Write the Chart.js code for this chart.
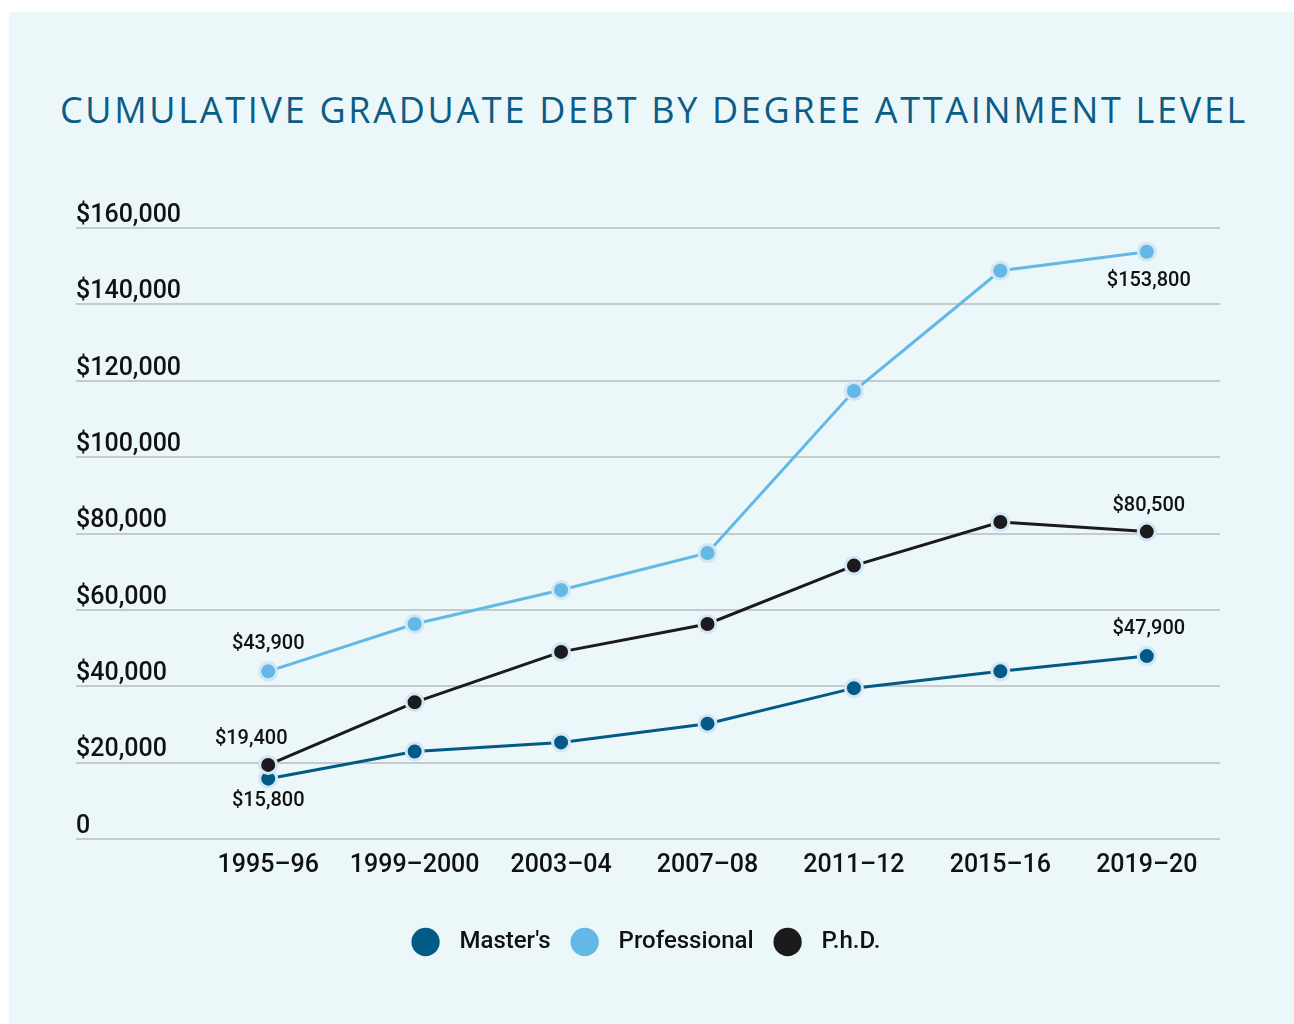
<!DOCTYPE html>
<html><head><meta charset="utf-8">
<script src="https://cdn.jsdelivr.net/npm/chart.js@4.4.0/dist/chart.umd.min.js"></script>
<style>
html,body{margin:0;padding:0;background:#fff;}
#panel{position:absolute;left:9px;top:12px;width:1285px;height:1012px;background:#ebf7f9;}
#title{position:absolute;left:14px;top:88px;width:1280px;text-align:center;font-family:"Open Sans",sans-serif;font-size:36px;line-height:43px;font-weight:400;letter-spacing:2.7px;color:#0b5c86;white-space:nowrap;margin:0;}
#c{position:absolute;left:0;top:0;}
</style></head><body>
<div id="panel"></div>
<h1 id="title">CUMULATIVE GRADUATE DEBT BY DEGREE ATTAINMENT LEVEL</h1>
<canvas id="c" width="1294" height="1024"></canvas>
<script>
const categories = ['1995–96','1999–2000','2003–04','2007–08','2011–12','2015–16','2019–20'];
const seriesNames = ["Master's", 'Professional', 'P.h.D.'];
const mastersDebt = [15800, 22900, 25300, 30200, 39500, 43900, 47900];
const professionalDebt = [43900, 56300, 65200, 74900, 117300, 148800, 153800];
const phdDebt = [19400, 35800, 49000, 56300, 71600, 83000, 80500];
const yTickValues = [0, 20000, 40000, 60000, 80000, 100000, 120000, 140000, 160000];
const yTickLabels = ['0', '$20,000', '$40,000', '$60,000', '$80,000', '$100,000', '$120,000', '$140,000', '$160,000'];

// which points carry a value label (dataset index, point index) and where
const labelSpots = [
  {ds: 0, i: 0, dx: 0, dy: 22},
  {ds: 0, i: 6, dx: 2, dy: -27},
  {ds: 1, i: 0, dx: 0, dy: -27},
  {ds: 1, i: 6, dx: 2, dy: 29},
  {ds: 2, i: 0, dx: -17, dy: -26},
  {ds: 2, i: 6, dx: 2, dy: -26}
];

const colors = ['#015b86', '#63b8e6', '#1b1b1b'];
const halo = '#d3e6f3';

const valueLabels = {
  id: 'valueLabels',
  afterDatasetsDraw(chart) {
    const ctx = chart.ctx;
    ctx.save();
    ctx.font = '500 20px Roboto';
    ctx.fillStyle = '#111';
    ctx.textAlign = 'center';
    ctx.textBaseline = 'middle';
    labelSpots.forEach(s => {
      const el = chart.getDatasetMeta(s.ds).data[s.i];
      const v = chart.data.datasets[s.ds].data[s.i];
      ctx.fillText('$' + v.toLocaleString('en-US'), el.x + s.dx, el.y + s.dy);
    });
    ctx.restore();
  }
};

function ds(idx, values, order) {
  return {
    label: seriesNames[idx], data: values,
    borderColor: colors[idx], backgroundColor: colors[idx],
    pointBackgroundColor: colors[idx], pointBorderColor: halo,
    pointBorderWidth: 3, pointRadius: 8.5, pointHoverRadius: 8.5,
    borderWidth: 3, tension: 0, order: order
  };
}

function build() {
  new Chart(document.getElementById('c'), {
    type: 'line',
    data: {
      labels: categories,
      datasets: [ds(0, mastersDebt, 3), ds(1, professionalDebt, 2), ds(2, phdDebt, 1)]
    },
    options: {
      responsive: false, animation: false, events: [],
      layout: {padding: {top: 228, left: 76, right: 74, bottom: 60}},
      scales: {
        x: {
          offset: true,
          grid: {display: false, drawTicks: false},
          border: {display: false},
          ticks: {padding: 12, color: '#111', maxRotation: 0, autoSkip: false,
                  font: {family: 'Roboto', size: 25, weight: '500'}},
          afterFit(s) { s.height = 67; }
        },
        y: {
          min: 0, max: 160000,
          afterBuildTicks(s) { s.ticks = yTickValues.map(v => ({value: v})); },
          afterFit(s) { s.width = 119; },
          grid: {color: '#c3cbce', lineWidth: 2, drawTicks: true, tickLength: 119},
          border: {display: false},
          ticks: {
            crossAlign: 'far', padding: 0, labelOffset: -12.5, color: '#111',
            font: {family: 'Roboto', size: 25, weight: '500'},
            callback: (v) => yTickLabels[yTickValues.indexOf(v)]
          }
        }
      },
      plugins: {
        title: {display: false},
        tooltip: {enabled: false},
        legend: {
          position: 'bottom',
          labels: {
            usePointStyle: true, pointStyle: 'circle', boxWidth: 20, boxHeight: 20, padding: 24,
            color: '#111', font: {family: 'Roboto', size: 24, weight: '500'},
            sort: (a, b) => a.datasetIndex - b.datasetIndex,
            generateLabels(chart) {
              const items = Chart.defaults.plugins.legend.labels.generateLabels(chart);
              items.forEach(it => { it.text = '  ' + it.text; it.lineWidth = 0; it.strokeStyle = 'rgba(0,0,0,0)'; });
              return items;
            }
          }
        }
      }
    },
    plugins: [valueLabels]
  });
}

Promise.all([
  document.fonts.load('400 25px Roboto'),
  document.fonts.load('500 25px Roboto'),
  document.fonts.load('400 36px "Open Sans"')
]).then(build, build);
</script>
</body></html>
